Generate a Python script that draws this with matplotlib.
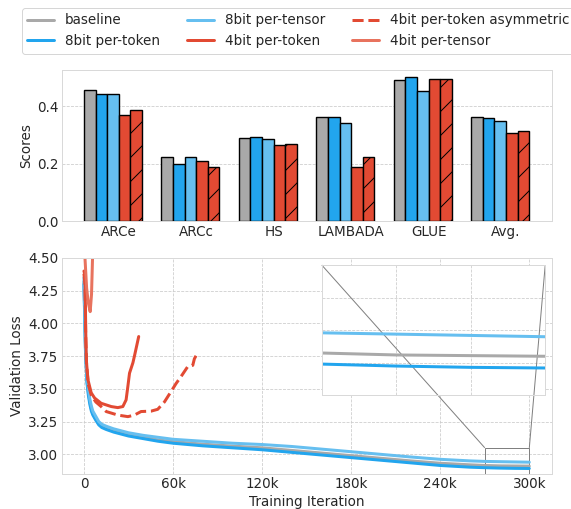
import matplotlib
matplotlib.use("Agg")
import matplotlib.pyplot as plt
import numpy as np
from mpl_toolkits.axes_grid1.inset_locator import mark_inset

# ---------- dados ----------
tarefas = ["ARCe", "ARCc", "HS", "LAMBADA", "GLUE", "Avg."]
series = ["baseline", "8bit per-token", "8bit per-tensor", "4bit per-token",
          "4bit per-token asymmetric", "4bit per-tensor"]

score_baseline = [0.458, 0.225, 0.289, 0.362, 0.492, 0.364]
score_8bit_token = [0.445, 0.199, 0.293, 0.364, 0.502, 0.361]
score_8bit_tensor = [0.442, 0.224, 0.288, 0.344, 0.453, 0.350]
score_4bit_token = [0.372, 0.210, 0.267, 0.188, 0.494, 0.307]
score_4bit_asym = [0.386, 0.188, 0.269, 0.224, 0.494, 0.313]

# iteracoes (em milhares) para as curvas longas
iter_long = [0, 1, 2, 3, 4, 5, 6, 8, 10, 12, 15, 20, 25, 30, 40, 50, 60, 80, 100,
             120, 140, 160, 180, 200, 220, 240, 260, 270, 280, 290, 300]
loss_baseline = [4.32, 3.82, 3.57, 3.47, 3.40, 3.345, 3.31, 3.27, 3.235, 3.215, 3.20,
                 3.18, 3.165, 3.15, 3.13, 3.11, 3.097, 3.078, 3.063, 3.05, 3.03, 3.01,
                 2.99, 2.97, 2.95, 2.932, 2.92, 2.915, 2.912, 2.911, 2.910]
loss_8bit_token = [4.30, 3.80, 3.55, 3.45, 3.38, 3.33, 3.30, 3.26, 3.225, 3.205, 3.19,
                   3.17, 3.155, 3.14, 3.12, 3.10, 3.085, 3.065, 3.05, 3.035, 3.015, 2.995,
                   2.975, 2.955, 2.935, 2.915, 2.902, 2.898, 2.895, 2.893, 2.892]
loss_8bit_tensor = [4.35, 3.85, 3.60, 3.50, 3.42, 3.37, 3.33, 3.29, 3.25, 3.23, 3.215,
                    3.195, 3.18, 3.165, 3.145, 3.13, 3.115, 3.10, 3.085, 3.075, 3.06, 3.04,
                    3.02, 3.0, 2.98, 2.962, 2.95, 2.946, 2.944, 2.942, 2.940]

iter_4bit_token = [0, 0.7, 1.2, 1.6, 2.7, 4.9, 7.2, 11.6, 18.4, 22.8, 26.2, 28.4, 29.6,
                   30.7, 33.0, 34.2, 36.9]
loss_4bit_token = [4.40, 4.37, 3.95, 3.72, 3.57, 3.47, 3.43, 3.39, 3.365, 3.357, 3.365,
                   3.416, 3.52, 3.62, 3.70, 3.76, 3.90]

iter_4bit_asym = [0, 0.7, 1.2, 1.8, 3.0, 5.0, 8.0, 11.6, 15.0, 22.8, 29.6, 34.0, 38.5,
                  45.2, 49.7, 54.2, 58.7, 62.0, 65.4, 69.9, 73.3, 74.4, 76.3]
loss_4bit_asym = [4.38, 4.30, 3.90, 3.68, 3.53, 3.45, 3.40, 3.365, 3.327, 3.30, 3.288,
                  3.30, 3.327, 3.33, 3.344, 3.40, 3.48, 3.54, 3.594, 3.67, 3.68, 3.73, 3.77]

iter_4bit_tensor = [0, 0.7, 1.8, 2.9, 4.2, 5.1, 5.8, 6.5]
loss_4bit_tensor = [5.0, 4.5, 4.27, 4.16, 4.09, 4.22, 4.5, 4.8]

cores = {"baseline": "#a9a9a9", "8bit per-token": "#22a5ee", "8bit per-tensor": "#66bff0",
         "4bit per-token": "#e24a33", "4bit per-token asymmetric": "#e24a33",
         "4bit per-tensor": "#e8735e"}

# ---------- estilo ----------
plt.style.use("seaborn-v0_8-whitegrid")
plt.rcParams["font.family"] = "DejaVu Sans"
fs = 13.5
plt.rcParams["font.size"] = fs
plt.rcParams["axes.labelsize"] = fs
plt.rcParams["xtick.labelsize"] = fs
plt.rcParams["ytick.labelsize"] = fs
plt.rcParams["legend.fontsize"] = fs
plt.rcParams["grid.linestyle"] = "--"
plt.rcParams["grid.color"] = "0.8"
plt.rcParams["axes.edgecolor"] = "0.85"

fig = plt.figure(figsize=(571 / 72, 509 / 72), dpi=72)
ax1 = fig.add_axes([0.108, 0.5652, 0.858, 0.2973])
ax2 = fig.add_axes([0.108, 0.0688, 0.858, 0.4244])

# ---------- barras ----------
x = np.arange(len(tarefas))
w = 0.15
barras = [score_baseline, score_8bit_token, score_8bit_tensor, score_4bit_token, score_4bit_asym]
for i, vals in enumerate(barras):
    nome = series[i]
    hatch = "/" if nome == "4bit per-token asymmetric" else None
    ax1.bar(x + (i - 2.5) * w, vals, w, color=cores[nome], edgecolor="black",
            linewidth=1.4, hatch=hatch, zorder=3)
ax1.set_xticks(x)
ax1.set_xticklabels(tarefas)
ax1.set_yticks([0.0, 0.2, 0.4])
ax1.set_ylabel("Scores")
ax1.grid(axis="x", visible=False)
ax1.grid(axis="y", linewidth=0.8)

# ---------- curvas ----------
def k(v):
    return np.array(v) * 1000

lw = 3
ax2.plot(k(iter_long), loss_baseline, color=cores["baseline"], lw=lw, label="baseline")
ax2.plot(k(iter_long), loss_8bit_token, color=cores["8bit per-token"], lw=lw, label="8bit per-token")
ax2.plot(k(iter_long), loss_8bit_tensor, color=cores["8bit per-tensor"], lw=lw, label="8bit per-tensor")
ax2.plot(k(iter_4bit_token), loss_4bit_token, color=cores["4bit per-token"], lw=lw, label="4bit per-token")
ax2.plot(k(iter_4bit_asym), loss_4bit_asym, color=cores["4bit per-token asymmetric"], lw=lw,
         ls="--", label="4bit per-token asymmetric")
ax2.plot(k(iter_4bit_tensor), loss_4bit_tensor, color=cores["4bit per-tensor"], lw=lw,
         label="4bit per-tensor")
ax2.set_ylim(2.85, 4.5)
ax2.set_xlim(-15000, 315000)
ax2.set_xticks([0, 60000, 120000, 180000, 240000, 300000])
ax2.set_xticklabels(["0", "60k", "120k", "180k", "240k", "300k"])
ax2.set_yticks([3.0, 3.25, 3.5, 3.75, 4.0, 4.25, 4.5])
ax2.set_yticklabels(["3.00", "3.25", "3.50", "3.75", "4.00", "4.25", "4.50"])
ax2.set_xlabel("Training Iteration")
ax2.set_ylabel("Validation Loss")
ax2.grid(linewidth=0.8)

# zoom no final
axins = ax2.inset_axes([0.531, 0.364, 0.456, 0.603])
axins.plot(k(iter_long), loss_baseline, color=cores["baseline"], lw=lw)
axins.plot(k(iter_long), loss_8bit_token, color=cores["8bit per-token"], lw=lw)
axins.plot(k(iter_long), loss_8bit_tensor, color=cores["8bit per-tensor"], lw=lw)
axins.set_xlim(270000, 300000)
axins.set_ylim(2.85, 3.05)
axins.set_xticks([280000, 290000])
axins.set_yticks([2.9, 2.95, 3.0])
axins.set_xticklabels([])
axins.set_yticklabels([])
axins.grid(linewidth=0.8)
mark_inset(ax2, axins, loc1=1, loc2=2, fc="none", ec="0.5", lw=1)

handles, labels = ax2.get_legend_handles_labels()
fig.legend(handles, labels, loc="upper left", bbox_to_anchor=(22 / 571, 1 - 8 / 509),
           ncol=3, frameon=True, borderaxespad=0)

fig.savefig("out.png", dpi=72)
